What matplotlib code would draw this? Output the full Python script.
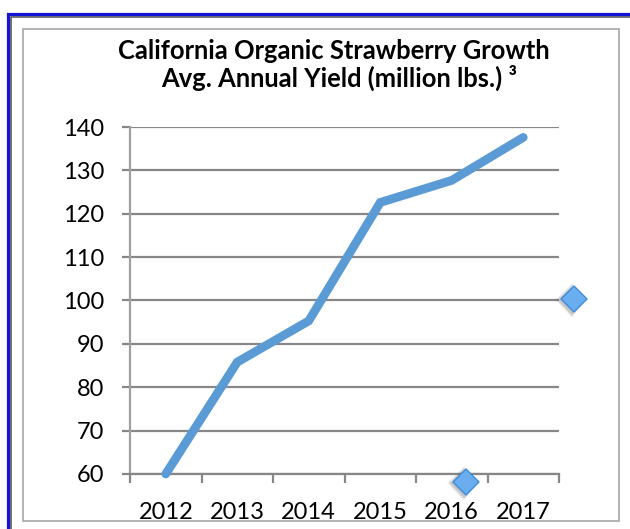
import matplotlib
matplotlib.use("Agg")
import matplotlib.pyplot as plt
from matplotlib.patches import Rectangle, Polygon
from matplotlib.lines import Line2D

years = ["2012", "2013", "2014", "2015", "2016", "2017"]
yield_mlbs = [60, 85.8, 95.3, 122.6, 127.7, 137.6]
y_ticks = [60, 70, 80, 90, 100, 110, 120, 130, 140]
title_line1 = "California Organic Strawberry Growth"
title_line2 = "Avg. Annual Yield (million lbs.) ³"

W, H = 630, 529
fig = plt.figure(figsize=(W / 100, H / 100), dpi=100)
fig.patch.set_facecolor("white")

def fx(px):
    return px / W

def fy(py):
    return 1 - py / H

def fig_line(xs, ys, **kw):
    fig.add_artist(Line2D([fx(v) for v in xs], [fy(v) for v in ys],
                          transform=fig.transFigure, **kw))

# slide border: blue outer line, dark inner line
fig_line([11, 11, 640], [540, 16.5, 16.5], color="#5a5a5a", linewidth=1.2, zorder=0)
fig_line([8, 8, 640], [540, 14, 14], color="#1414D6", linewidth=2.3, zorder=0,
         solid_joinstyle="miter")
# chart area frame
fig.add_artist(Rectangle((fx(22.5), fy(521)), fx(619 - 22.5), (521 - 29) / H,
                         transform=fig.transFigure, fill=False, edgecolor="#a6a6a6",
                         linewidth=1.2, zorder=0))

left, right, top, bottom = 130, 559, 127, 474
ax = fig.add_axes([fx(left), fy(bottom), fx(right - left), (bottom - top) / H])
ax.set_facecolor("none")

x = list(range(len(years)))
ax.plot(x, yield_mlbs, color="#5B9BD5", linewidth=6.3, solid_capstyle="round",
        solid_joinstyle="miter", zorder=3, clip_on=False)

ax.set_xlim(-0.5, len(years) - 0.5)
ax.set_ylim(60, 140)
ax.set_yticks(y_ticks)
ax.set_yticklabels([str(v) for v in y_ticks])
ax.set_xticks(x)
ax.set_xticklabels(years)
ax.set_xticks([i - 0.5 for i in range(len(years) + 1)], minor=True)

grid_col = "#878787"
ax.yaxis.grid(True, color=grid_col, linewidth=1.6, zorder=1)
ax.set_axisbelow(True)
for s in ["top", "right"]:
    ax.spines[s].set_visible(False)
ax.spines["left"].set_color("#a0a0a0")
ax.spines["left"].set_linewidth(1.6)
ax.spines["bottom"].set_color(grid_col)
ax.spines["bottom"].set_linewidth(1.6)

font = "Lato"
ax.tick_params(axis="y", which="major", length=5.8, width=1.6, color=grid_col, pad=12.5,
               labelsize=17, labelcolor="black")
ax.tick_params(axis="x", which="major", length=0, pad=20, labelsize=17, labelcolor="black")
ax.tick_params(axis="x", which="minor", length=6.5, width=1.6, color=grid_col)
for lab in ax.get_xticklabels() + ax.get_yticklabels():
    lab.set_family(font)

fig.text(fx(334.2), fy(59.3), title_line1, ha="center", va="baseline", fontsize=18.4,
         fontweight="bold", family=[font, "DejaVu Sans"])
fig.text(fx(339), fy(86.7), title_line2, ha="center", va="baseline", fontsize=18.4,
         fontweight="bold", family=[font, "DejaVu Sans"])

# selection handles (decorative, from the screenshot)
def handle(cx, cy, r=13):
    for k, a in [(6, 0.08), (4.5, 0.12), (3, 0.18)]:
        sh = Polygon([(fx(cx - r - k), fy(cy + 1)), (fx(cx - 2), fy(cy - r - k + 3)),
                      (fx(cx + r - 2), fy(cy + 1)), (fx(cx - 2), fy(cy + r + k))],
                     closed=True, transform=fig.transFigure, facecolor="#555555", alpha=a,
                     edgecolor="none", zorder=5)
        fig.add_artist(sh)
    d = Polygon([(fx(cx - r), fy(cy)), (fx(cx), fy(cy - r)), (fx(cx + r), fy(cy)), (fx(cx), fy(cy + r))],
                closed=True, transform=fig.transFigure, facecolor="#6AAEF0", edgecolor="#3F8BDA",
                linewidth=1.0, zorder=6)
    fig.add_artist(d)

handle(574, 299)
handle(466, 482)

fig.savefig("out.png", dpi=100)
